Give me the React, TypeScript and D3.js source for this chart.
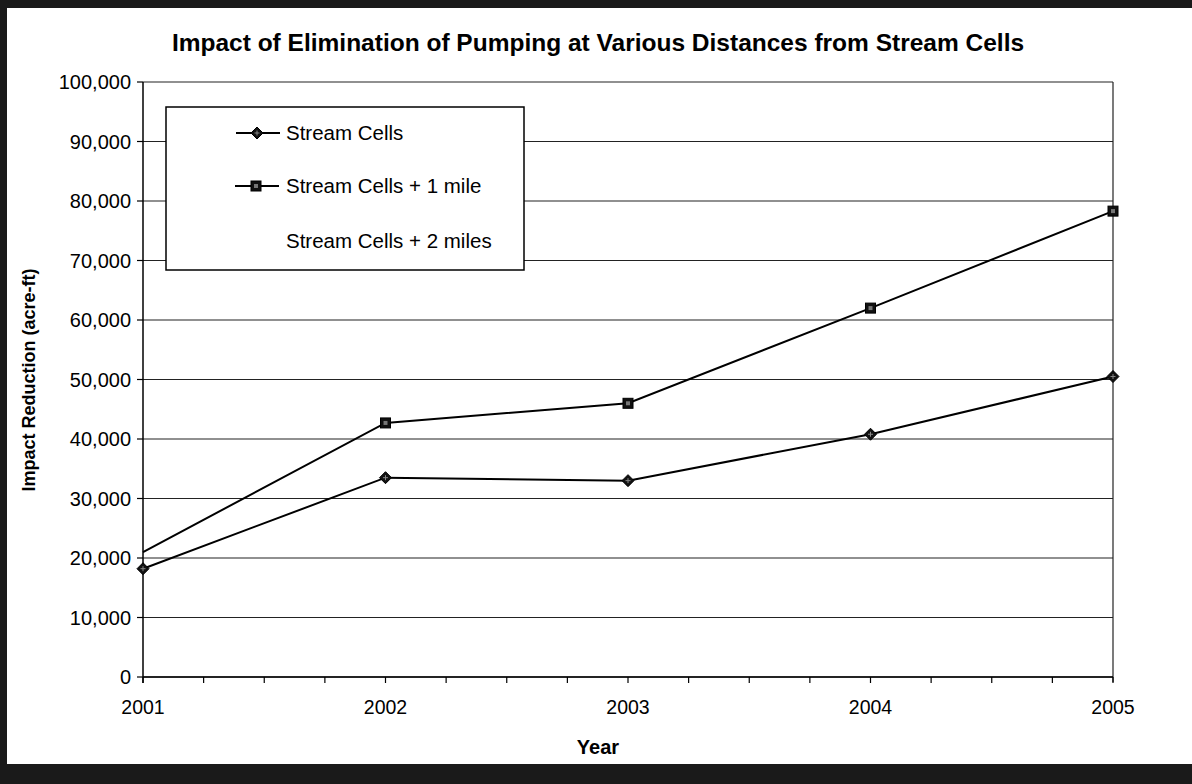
import React from "react";
import * as d3 from "d3";

const years = [2001, 2002, 2003, 2004, 2005];
const streamCells = [18200, 33500, 33000, 40800, 50500];
const streamCells1Mile = [21000, 42700, 46000, 62000, 78300];
const yTicks = [0, 10000, 20000, 30000, 40000, 50000, 60000, 70000, 80000, 90000, 100000];
const legendLabels = ["Stream Cells", "Stream Cells + 1 mile", "Stream Cells + 2 miles"];
const title = "Impact of Elimination of Pumping at Various Distances from Stream Cells";

const W = 1192;
const H = 784;
const FONT = "'Liberation Sans', Arial, Helvetica, sans-serif";

export default function App() {
  const left = 143, right = 1113, top = 82, bottom = 677;
  const x = d3.scaleLinear().domain([2001, 2005]).range([left, right]);
  const y = d3.scaleLinear().domain([0, 100000]).range([bottom, top]);
  const fmt = d3.format(",");
  const quarterTicks = d3.range(0, 17).map((i) => 2001 + i / 4);

  const line = d3
    .line<number>()
    .x((_, i) => x(years[i]))
    .y((d) => y(d));

  const diamond = (cx: number, cy: number, key: string) => (
    <g key={key}>
      <path d={`M${cx},${cy - 6}L${cx + 6},${cy}L${cx},${cy + 6}L${cx - 6},${cy}Z`} fill="#111" stroke="#000" strokeWidth={1} />
      <path d={`M${cx - 2.5},${cy}L${cx + 2.5},${cy}M${cx},${cy - 2.5}L${cx},${cy + 2.5}`} stroke="#888" strokeWidth={1} />
    </g>
  );
  const square = (cx: number, cy: number, key: string) => (
    <g key={key}>
      <rect x={cx - 5} y={cy - 5} width={10} height={10} fill="#111" stroke="#000" strokeWidth={1} />
      <rect x={cx - 2} y={cy - 2} width={4} height={4} fill="#777" />
    </g>
  );

  return (
    <svg width={W} height={H} style={{ position: "absolute", left: 0, top: 0, background: "#fff" }} fontFamily={FONT}>
      <rect x={0} y={0} width={W} height={H} fill="#fff" />
      {/* scanned outer frame */}
      <rect x={0} y={0} width={W} height={8} fill="#1a1a1a" />
      <rect x={0} y={0} width={7} height={H} fill="#1a1a1a" />
      <rect x={0} y={764} width={W} height={H - 764} fill="#1a1a1a" />

      <text x={598} y={51} textAnchor="middle" fontSize={24.5} fontWeight="bold" fill="#000">
        {title}
      </text>

      {/* gridlines */}
      {yTicks.map((t) => (
        <line key={"g" + t} x1={left} x2={right} y1={y(t)} y2={y(t)} stroke="#222" strokeWidth={1.2} />
      ))}
      {/* right border */}
      <line x1={right} x2={right} y1={top} y2={bottom + 5} stroke="#222" strokeWidth={1.2} />
      {/* y axis */}
      <line x1={left} x2={left} y1={top} y2={bottom + 6} stroke="#000" strokeWidth={1.5} />
      {yTicks.map((t) => (
        <g key={"yt" + t}>
          <line x1={left - 6} x2={left} y1={y(t)} y2={y(t)} stroke="#000" strokeWidth={1.2} />
          <text x={131} y={y(t) + 7} textAnchor="end" fontSize={20} fill="#000">
            {fmt(t)}
          </text>
        </g>
      ))}
      {/* x axis */}
      <line x1={left} x2={right} y1={bottom} y2={bottom} stroke="#000" strokeWidth={1.5} />
      {quarterTicks.map((t, i) => (
        <line key={"xt" + i} x1={x(t)} x2={x(t)} y1={bottom} y2={bottom + 6} stroke="#000" strokeWidth={1.2} />
      ))}
      {years.map((yr) => (
        <text key={"xl" + yr} x={x(yr)} y={714} textAnchor="middle" fontSize={19.5} fill="#000">
          {yr}
        </text>
      ))}

      <text x={598} y={754} textAnchor="middle" fontSize={20} fontWeight="bold" fill="#000">
        Year
      </text>
      <text transform={`translate(35,${380}) rotate(-90)`} textAnchor="middle" fontSize={18} fontWeight="bold" fill="#000">
        Impact Reduction (acre-ft)
      </text>

      {/* series */}
      <path d={line(streamCells1Mile) || ""} fill="none" stroke="#000" strokeWidth={2} />
      <path d={line(streamCells) || ""} fill="none" stroke="#000" strokeWidth={2} />
      {streamCells.map((v, i) => diamond(x(years[i]), y(v), "d" + i))}
      {streamCells1Mile.map((v, i) => (i === 0 ? null : square(x(years[i]), y(v), "s" + i)))}

      {/* legend */}
      <rect x={166} y={107} width={358} height={163} fill="#fff" stroke="#000" strokeWidth={1.5} />
      <line x1={236} x2={280} y1={133} y2={133} stroke="#000" strokeWidth={2} />
      {diamond(257, 133, "ld")}
      <line x1={235} x2={279} y1={186} y2={186} stroke="#000" strokeWidth={2} />
      {square(256, 186, "ls")}
      {legendLabels.map((l, i) => (
        <text key={"lg" + i} x={286} y={[140, 193, 248][i]} fontSize={20.5} fill="#000">
          {l}
        </text>
      ))}
    </svg>
  );
}
